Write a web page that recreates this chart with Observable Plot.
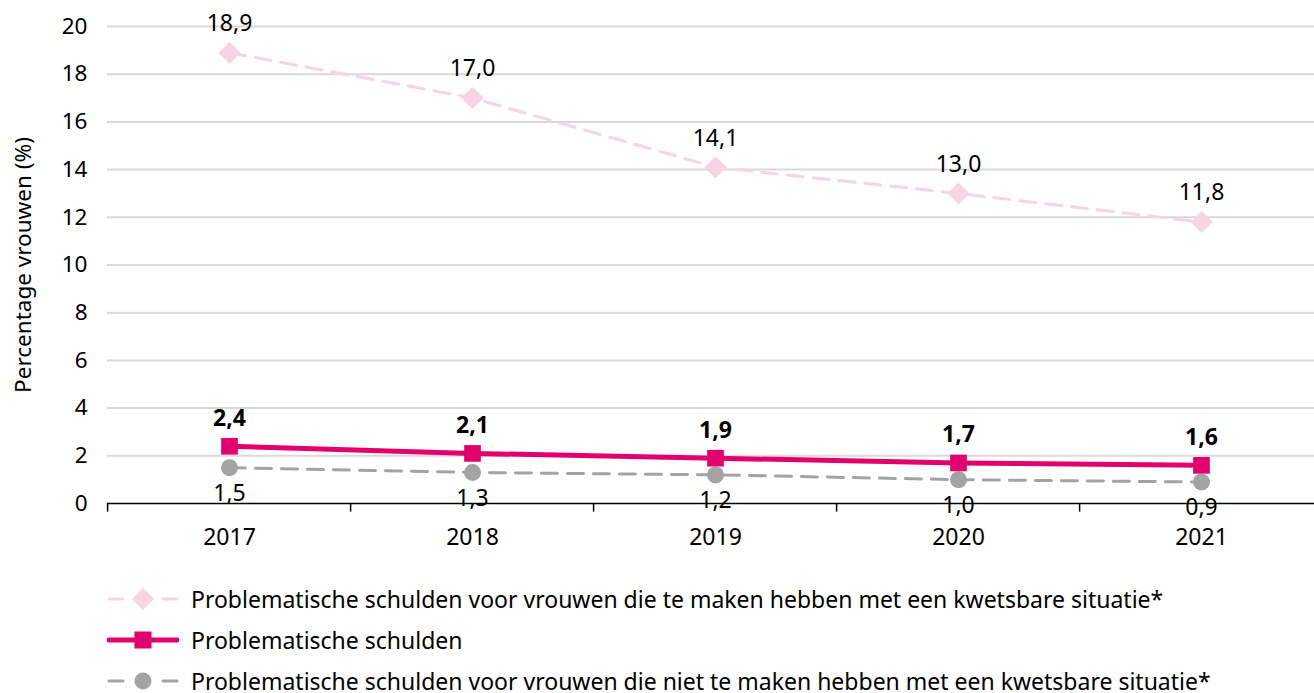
<!DOCTYPE html>
<html><head><meta charset="utf-8">
<script src="https://cdn.jsdelivr.net/npm/d3@7"></script>
<script src="https://cdn.jsdelivr.net/npm/@observablehq/plot@0.6"></script>
<style>
body{margin:0;background:#fff;font-family:"Noto Sans",sans-serif;}
#legend{margin-left:107px;margin-top:18px;font-size:23px;color:#000;}
.li{display:flex;align-items:center;height:41px;}
.li svg{margin-right:12px;}
</style></head><body>
<div id="chart"></div>
<div id="legend"></div>
<script>
const years = ["2017","2018","2019","2020","2021"];
const kwetsbaar = [18.9, 17.0, 14.1, 13.0, 11.8];
const totaal = [2.4, 2.1, 1.9, 1.7, 1.6];
const nietKwetsbaar = [1.5, 1.3, 1.2, 1.0, 0.9];
const yTicks = [0,2,4,6,8,10,12,14,16,18,20];
const seriesNames = [
  "Problematische schulden voor vrouwen die te maken hebben met een kwetsbare situatie*",
  "Problematische schulden",
  "Problematische schulden voor vrouwen die niet te maken hebben met een kwetsbare situatie*"
];
const colors = {pink:"#f8d3e2", magenta:"#e2006e", grey:"#a3a3a3"};

const fmt = v => v.toFixed(1).replace(".", ",");
const rows = (vals) => years.map((y,i)=>({year:y, value:vals[i]}));
const A = rows(kwetsbaar), B = rows(totaal), C = rows(nietKwetsbaar);

const W = 1314, H = 560;
const chart = Plot.plot({
  width: W, height: H,
  marginLeft: 107, marginRight: 0, marginTop: 26, marginBottom: 57,
  style: {fontFamily: '"Noto Sans", sans-serif', fontSize: "23px", color: "#000", background: "#fff"},
  x: {type: "point", domain: years, range: [105, 1324], padding: 0.5},
  y: {domain: [0, 20], ticks: yTicks},
  marks: [
    Plot.gridY(yTicks.filter(d=>d>0), {stroke: "#d9d9d9", strokeOpacity: 1, strokeWidth: 2}),
    Plot.axisY({ticks: yTicks, tickSize: 0, tickPadding: 20, fontSize: 22.5,
      label: "Percentage vrouwen (%)", labelAnchor: "center", labelArrow: "none", labelOffset: 92}),
    Plot.axisX({tickSize: 0, tickPadding: 25, fontSize: 23, label: null}),
    Plot.ruleY([0], {stroke: "#000", strokeWidth: 1.5}),
    Plot.ruleX(years, {x: d=>d, y1: 0, y2: -0.36, dx: -121.9, stroke: "#000", strokeWidth: 1.5}),
    Plot.line(A, {x: "year", y: "value", stroke: colors.pink, strokeWidth: 3, strokeDasharray: "16,10"}),
    Plot.line(C, {x: "year", y: "value", stroke: colors.grey, strokeWidth: 3, strokeDasharray: "16,10"}),
    Plot.line(B, {x: "year", y: "value", stroke: colors.magenta, strokeWidth: 5}),
    Plot.dot(A, {x: "year", y: "value", symbol: "diamond2", r: 9.9, fill: colors.pink, stroke: "none"}),
    Plot.dot(C, {x: "year", y: "value", symbol: "circle", r: 8.5, fill: colors.grey, stroke: "none"}),
    Plot.dot(B, {x: "year", y: "value", symbol: "square", r: 9.4, fill: colors.magenta, stroke: "none"}),
    Plot.text(A, {x: "year", y: "value", text: d=>fmt(d.value), dy: -29, fontSize: 23, fill: "#000"}),
    Plot.text(B, {x: "year", y: "value", text: d=>fmt(d.value), dy: -28, fontSize: 23, fontWeight: "bold", fill: "#000"}),
    Plot.text(C, {x: "year", y: "value", text: d=>fmt(d.value), dy: 26, fontSize: 23, fill: "#000"})
  ]
});
document.getElementById("chart").appendChild(chart);

const legend = document.getElementById("legend");
const swatches = [
  `<line x1="2" y1="11" x2="16" y2="11" stroke="${colors.pink}" stroke-width="3" stroke-linecap="round"/><line x1="56" y1="11" x2="70" y2="11" stroke="${colors.pink}" stroke-width="3" stroke-linecap="round"/><path d="M36,0 L47,11 L36,22 L25,11Z" fill="${colors.pink}"/>`,
  `<line x1="2" y1="11" x2="70" y2="11" stroke="${colors.magenta}" stroke-width="5" stroke-linecap="round"/><rect x="27.5" y="2.5" width="17" height="17" fill="${colors.magenta}"/>`,
  `<line x1="2" y1="11" x2="16" y2="11" stroke="${colors.grey}" stroke-width="3" stroke-linecap="round"/><line x1="56" y1="11" x2="70" y2="11" stroke="${colors.grey}" stroke-width="3" stroke-linecap="round"/><circle cx="36" cy="11" r="8.5" fill="${colors.grey}"/>`
];
seriesNames.forEach((name,i)=>{
  const d = document.createElement("div");
  d.className = "li";
  d.innerHTML = `<svg width="72" height="22">${swatches[i]}</svg><span>${name}</span>`;
  legend.appendChild(d);
});
</script>
</body></html>
